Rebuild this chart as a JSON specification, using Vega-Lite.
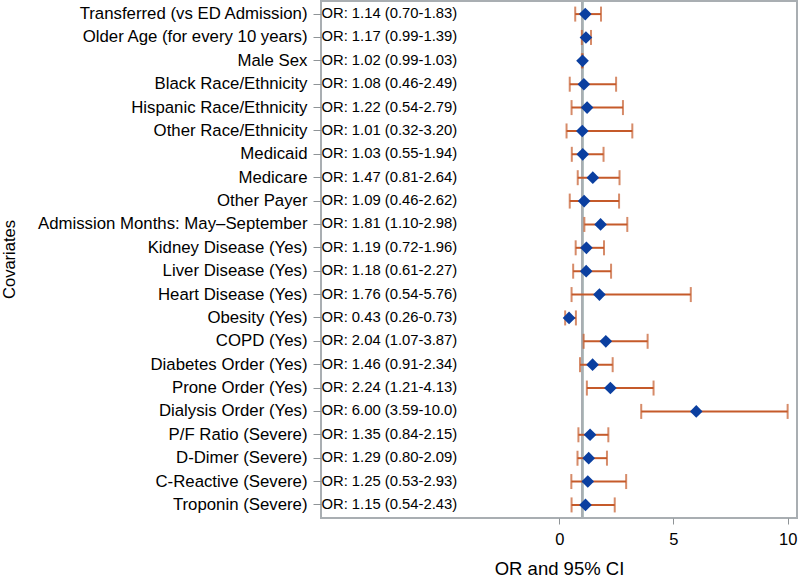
{
  "$schema": "https://vega.github.io/schema/vega-lite/v6.json",
  "width": 476,
  "height": 517,
  "autosize": {"type": "none"},
  "padding": {"left": 321, "top": 1, "right": 3, "bottom": 61},
  "background": "white",
  "config": {
    "font": "Liberation Sans",
    "view": {"stroke": "#a9aeb2", "strokeWidth": 2}
  },
  "data": {
    "values": [
      {"name": "Transferred (vs ED Admission)", "or": 1.14, "lo": 0.70, "hi": 1.83, "txt": "OR: 1.14 (0.70-1.83)"},
      {"name": "Older Age (for every 10 years)", "or": 1.17, "lo": 0.99, "hi": 1.39, "txt": "OR: 1.17 (0.99-1.39)"},
      {"name": "Male Sex", "or": 1.02, "lo": 0.99, "hi": 1.03, "txt": "OR: 1.02 (0.99-1.03)"},
      {"name": "Black Race/Ethnicity", "or": 1.08, "lo": 0.46, "hi": 2.49, "txt": "OR: 1.08 (0.46-2.49)"},
      {"name": "Hispanic Race/Ethnicity", "or": 1.22, "lo": 0.54, "hi": 2.79, "txt": "OR: 1.22 (0.54-2.79)"},
      {"name": "Other Race/Ethnicity", "or": 1.01, "lo": 0.32, "hi": 3.20, "txt": "OR: 1.01 (0.32-3.20)"},
      {"name": "Medicaid", "or": 1.03, "lo": 0.55, "hi": 1.94, "txt": "OR: 1.03 (0.55-1.94)"},
      {"name": "Medicare", "or": 1.47, "lo": 0.81, "hi": 2.64, "txt": "OR: 1.47 (0.81-2.64)"},
      {"name": "Other Payer", "or": 1.09, "lo": 0.46, "hi": 2.62, "txt": "OR: 1.09 (0.46-2.62)"},
      {"name": "Admission Months: May–September", "or": 1.81, "lo": 1.10, "hi": 2.98, "txt": "OR: 1.81 (1.10-2.98)"},
      {"name": "Kidney Disease (Yes)", "or": 1.19, "lo": 0.72, "hi": 1.96, "txt": "OR: 1.19 (0.72-1.96)"},
      {"name": "Liver Disease (Yes)", "or": 1.18, "lo": 0.61, "hi": 2.27, "txt": "OR: 1.18 (0.61-2.27)"},
      {"name": "Heart Disease (Yes)", "or": 1.76, "lo": 0.54, "hi": 5.76, "txt": "OR: 1.76 (0.54-5.76)"},
      {"name": "Obesity (Yes)", "or": 0.43, "lo": 0.26, "hi": 0.73, "txt": "OR: 0.43 (0.26-0.73)"},
      {"name": "COPD (Yes)", "or": 2.04, "lo": 1.07, "hi": 3.87, "txt": "OR: 2.04 (1.07-3.87)"},
      {"name": "Diabetes Order (Yes)", "or": 1.46, "lo": 0.91, "hi": 2.34, "txt": "OR: 1.46 (0.91-2.34)"},
      {"name": "Prone Order (Yes)", "or": 2.24, "lo": 1.21, "hi": 4.13, "txt": "OR: 2.24 (1.21-4.13)"},
      {"name": "Dialysis Order (Yes)", "or": 6.00, "lo": 3.59, "hi": 10.0, "txt": "OR: 6.00 (3.59-10.0)"},
      {"name": "P/F Ratio (Severe)", "or": 1.35, "lo": 0.84, "hi": 2.15, "txt": "OR: 1.35 (0.84-2.15)"},
      {"name": "D-Dimer (Severe)", "or": 1.29, "lo": 0.80, "hi": 2.09, "txt": "OR: 1.29 (0.80-2.09)"},
      {"name": "C-Reactive (Severe)", "or": 1.25, "lo": 0.53, "hi": 2.93, "txt": "OR: 1.25 (0.53-2.93)"},
      {"name": "Troponin (Severe)", "or": 1.15, "lo": 0.54, "hi": 2.43, "txt": "OR: 1.15 (0.54-2.43)"}
    ]
  },
  "encoding": {
    "y": {
      "field": "name",
      "type": "nominal",
      "sort": null,
      "scale": {"paddingInner": 0, "paddingOuter": 0.06},
      "axis": {
        "title": "Covariates",
        "titleFont": "Liberation Sans",
        "titleFontSize": 16.5,
        "titleFontWeight": "normal",
        "titleColor": "#000000",
        "titleX": -312,
        "titleY": 258,
        "titleAngle": -90,
        "titleAlign": "center",
        "titleBaseline": "middle",
        "labelFont": "Liberation Sans",
        "labelFontSize": 16.8,
        "labelColor": "#000000",
        "labelPadding": 6,
        "tickSize": 8,
        "tickColor": "#8f9497",
        "tickWidth": 1,
        "domain": false,
        "labelLimit": 400
      }
    }
  },
  "layer": [
    {
      "mark": {"type": "rule", "color": "#a9aeb2", "strokeWidth": 2},
      "encoding": {
        "x": {
          "datum": 1,
          "type": "quantitative",
          "scale": {"domain": [-10.43, 10.41], "nice": false, "zero": false},
          "axis": {
            "values": [0, 5, 10],
            "title": "OR and 95% CI",
            "titleFont": "Liberation Sans",
            "titleFontSize": 18.5,
            "titleFontWeight": "normal",
            "titleColor": "#000000",
            "titlePadding": 12,
            "labelFont": "Liberation Sans",
            "labelFontSize": 16.5,
            "labelColor": "#000000",
            "labelPadding": 7,
            "tickSize": 6,
            "tickColor": "#8f9497",
            "grid": false,
            "domain": false
          }
        },
        "y": null
      }
    },
    {
      "mark": {"type": "rule", "color": "#c55a2a", "strokeWidth": 2},
      "encoding": {
        "x": {"field": "lo", "type": "quantitative"},
        "x2": {"field": "hi"}
      }
    },
    {
      "mark": {"type": "tick", "color": "#c55a2a", "orient": "vertical", "size": 15, "thickness": 2},
      "encoding": {
        "x": {"field": "lo", "type": "quantitative"}
      }
    },
    {
      "mark": {"type": "tick", "color": "#c55a2a", "orient": "vertical", "size": 15, "thickness": 2},
      "encoding": {
        "x": {"field": "hi", "type": "quantitative"}
      }
    },
    {
      "mark": {"type": "point", "shape": "diamond", "filled": true, "color": "#0b3fa0", "size": 160, "opacity": 1},
      "encoding": {
        "x": {"field": "or", "type": "quantitative"}
      }
    },
    {
      "mark": {"type": "text", "align": "left", "baseline": "middle", "font": "Liberation Sans", "fontSize": 14.8, "color": "#000000"},
      "encoding": {
        "x": {"datum": -10.41, "type": "quantitative"},
        "text": {"field": "txt"}
      }
    }
  ]
}
